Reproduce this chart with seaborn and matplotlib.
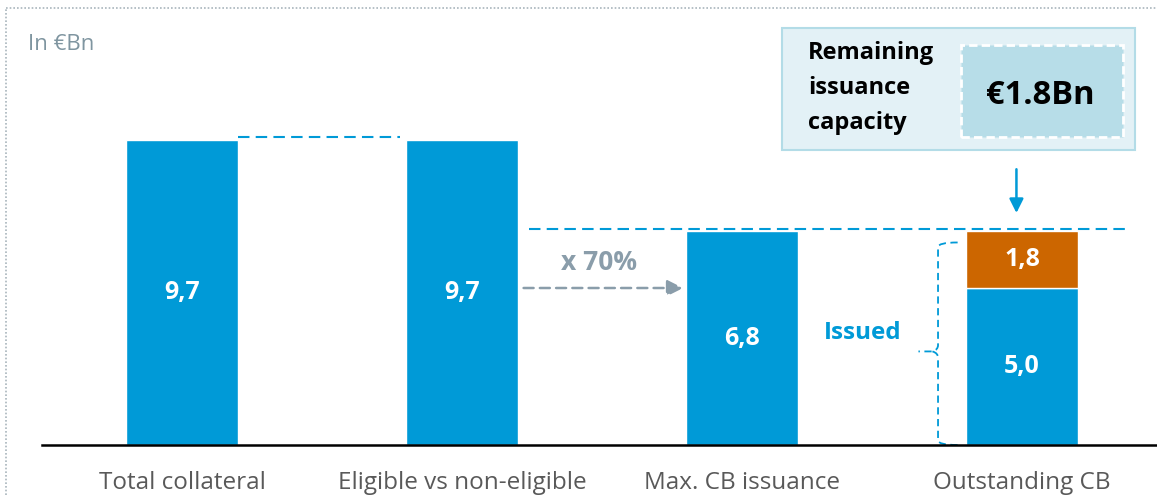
import matplotlib
matplotlib.use("Agg")
import matplotlib.pyplot as plt
import matplotlib.patches as mpatches
from matplotlib.path import Path
import seaborn as sns

# === DATA ===
categories = ["Total collateral", "Eligible vs non-eligible", "Max. CB issuance", "Outstanding CB"]
base_values = [9.7, 9.7, 6.8, 5.0]
remaining = 1.8
value_labels = ["9,7", "9,7", "6,8", "5,0"]
remaining_label = "1,8"
haircut_label = "x 70%"

BLUE = "#009AD7"
ORANGE = "#CC6600"
GREY = "#8A9DAA"

sns.set_theme(style="white")
plt.rcParams["font.family"] = ["Open Sans", "DejaVu Sans"]

fig = plt.figure(figsize=(11.57, 4.95), dpi=100)
ax = fig.add_axes([0, 50 / 495, 1, 445 / 495])

sns.barplot(x=categories, y=base_values, color=BLUE, width=0.4, saturation=1, ax=ax)
ax.bar(3, remaining, bottom=base_values[3], width=0.4, color=ORANGE)

ax.set_xlim(-0.65, 3.482)
ax.set_ylim(0, 445 / 31.4)
ax.set_yticks([])
ax.tick_params(axis="x", length=0, pad=19, labelsize=17.5, labelcolor="#595959")
for s in ["top", "left", "right"]:
    ax.spines[s].set_visible(False)
ax.spines["bottom"].set_color("black")
ax.spines["bottom"].set_linewidth(1.8)
ax.spines["bottom"].set_bounds(-0.5, 3.482)
ax.set_xlabel("")
ax.set_ylabel("")

# value labels
for i, (v, lab) in enumerate(zip(base_values, value_labels)):
    ax.text(i, v / 2, lab, ha="center", va="center", color="white",
            fontsize=18, fontweight="bold")
ax.text(3, base_values[3] + remaining / 2, remaining_label, ha="center", va="center",
        color="white", fontsize=18, fontweight="bold")

# dashed reference lines
ax.plot([0.2, 0.78], [9.8, 9.8], color=BLUE, lw=1.5, ls=(0, (5.5, 3)))
ax.plot([1.24, 3.37], [6.88, 6.88], color=BLUE, lw=1.5, ls=(0, (5.5, 3)))

# x 70% arrow
ax.annotate("", xy=(1.8, 5.0), xytext=(1.21, 5.0),
            arrowprops=dict(arrowstyle="-|>,head_length=0.8,head_width=0.4",
                            color=GREY, lw=1.8, ls=(0, (4, 2.5))))
ax.text(1.49, 5.8, haircut_label, ha="center", va="center", color=GREY,
        fontsize=19, fontweight="bold")

# arrow from box down
ax.annotate("", xy=(2.98, 7.3), xytext=(2.98, 8.87),
            arrowprops=dict(arrowstyle="-|>,head_length=0.7,head_width=0.35",
                            color=BLUE, lw=1.8))

# brace for "Issued"
xb, xr, xt = 2.7, 2.77, 2.63
top = base_values[3] + remaining - 0.35
mid = 2.98
verts = [(xr, top), (xb, top), (xb, top - 0.15), (xb, mid + 0.2),
         (xb, mid + 0.05), (xb - 0.02, mid), (xt, mid),
         (xb - 0.02, mid), (xb, mid - 0.05), (xb, mid - 0.2),
         (xb, 0.15), (xb, 0.0), (xr, 0.0)]
codes = [Path.MOVETO, Path.CURVE3, Path.CURVE3, Path.LINETO,
         Path.CURVE3, Path.CURVE3, Path.LINETO,
         Path.MOVETO, Path.CURVE3, Path.CURVE3,
         Path.LINETO, Path.CURVE3, Path.CURVE3]
ax.add_patch(mpatches.PathPatch(Path(verts, codes), fill=False, edgecolor=BLUE,
                                lw=1.3, ls=(0, (4, 2.5)), clip_on=False))
ax.text(2.43, 3.57, "Issued", ha="center", va="center", color=BLUE,
        fontsize=17.5, fontweight="bold")

# unit label
fig.text(28 / 1157, 1 - 45 / 495, "In €Bn", ha="left", va="center",
         color="#7F95A0", fontsize=16)

# remaining capacity box
W, H = 1157, 495
def fbox(x0, y0, x1, y1, **kw):
    return mpatches.Rectangle((x0 / W, 1 - y1 / H), (x1 - x0) / W, (y1 - y0) / H,
                              transform=fig.transFigure, **kw)
fig.add_artist(fbox(782, 28, 1135, 150, facecolor="#E3F1F6", edgecolor="#B3DCE7", lw=1.5))
fig.add_artist(fbox(961, 45, 1123, 137, facecolor="#B7DDE8", edgecolor="white",
                    lw=2, ls=(0, (3, 1.5))))
fig.text(808 / W, 1 - 88 / H, "Remaining\nissuance\ncapacity", ha="left", va="center",
         color="black", fontsize=17, fontweight="bold", linespacing=1.62)
fig.text(1040 / W, 1 - 96 / H, "€1.8Bn", ha="center", va="center",
         color="black", fontsize=23.5, fontweight="bold")

# dotted frame
fig.add_artist(plt.Line2D([6 / W, 1], [1 - 8 / H, 1 - 8 / H], transform=fig.transFigure,
                          color="#A9B5BC", lw=1.2, ls=(0, (1, 1.2))))
fig.add_artist(plt.Line2D([6 / W, 6 / W], [0, 1 - 8 / H], transform=fig.transFigure,
                          color="#A9B5BC", lw=1.2, ls=(0, (1, 1.2))))

fig.savefig("out.png", dpi=100)
